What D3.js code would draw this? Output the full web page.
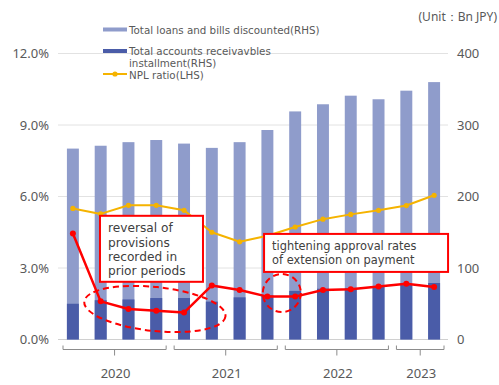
<!DOCTYPE html>
<html>
<head>
<meta charset="utf-8">
<script src="https://cdn.jsdelivr.net/npm/d3@7"></script>
<style>
  body { margin: 0; background: #fff; }
  text { font-family: "Noto Sans", sans-serif; }
  text.tight { font-family: "DejaVu Sans", sans-serif; }
</style>
</head>
<body>
<div id="chart"></div>
<script>
// =====================================================================
// data
var quarters = ["2020Q1","2020Q2","2020Q3","2020Q4","2021Q1","2021Q2","2021Q3","2021Q4",
                "2022Q1","2022Q2","2022Q3","2022Q4","2023Q1","2023Q2"];
var loans = [267, 271, 276, 279, 274, 268, 276, 293, 319, 329, 341, 336, 348, 360];
var receivables = [50, 55, 56, 58, 58, 53, 59, 62, 68, 71, 72, 74, 77, 79];
var nplRatio = [5.5, 5.27, 5.63, 5.63, 5.42, 4.5, 4.1, 4.35, 4.72, 5.05, 5.25, 5.42, 5.62, 6.05];
var redRatio = [4.45, 1.6, 1.28, 1.21, 1.13, 2.27, 2.08, 1.8, 1.8, 2.08, 2.11, 2.22, 2.34, 2.2];
var years = ["2020", "2021", "2022", "2023"];
var yearCounts = [4, 4, 4, 2];
var leftTicks = [0, 3, 6, 9, 12];
var rightTicks = [0, 100, 200, 300, 400];

// =====================================================================
var size = { width: 499, height: 385 };
var plot = { left: 59, right: 448, top: 53.5, bottom: 339.5 };
var colors = { light: "#8f9ccb", dark: "#4a5ca8", yellow: "#f5b300", red: "#ff0000",
               grid: "#e2e2e2", text: "#595959" };

var svg = d3.select("#chart").append("svg")
    .attr("width", size.width).attr("height", size.height);

var x = d3.scaleBand().domain(quarters).range([plot.left, plot.right])
    .paddingInner(0.57).paddingOuter(0.285);
var yL = d3.scaleLinear().domain([0, 12]).range([plot.bottom, plot.top]);
var yR = d3.scaleLinear().domain([0, 400]).range([plot.bottom, plot.top]);
var cx = function(q){ return x(q) + x.bandwidth()/2; };
// fractional index position for annotations
var xi = function(i){ return cx(quarters[0]) + i * x.step(); };

// grid lines
svg.append("g").selectAll("line").data(leftTicks).enter().append("line")
    .attr("x1", plot.left - 1).attr("x2", plot.right)
    .attr("y1", function(d){ return yL(d); }).attr("y2", function(d){ return yL(d); })
    .attr("stroke", function(d){ return d === 0 ? "#d0d0d0" : colors.grid; })
    .attr("stroke-width", 1);

// left axis labels
svg.append("g").selectAll("text").data(leftTicks).enter().append("text")
    .attr("x", 49).attr("y", function(d){ return yL(d) + 4.5; })
    .attr("text-anchor", "end").attr("font-size", 13).attr("fill", colors.text)
    .text(function(d){ return d.toFixed(1) + "%"; });

// right axis labels
svg.append("g").selectAll("text").data(rightTicks).enter().append("text")
    .attr("x", 457).attr("y", function(d){ return yR(d) + 4.5; })
    .attr("text-anchor", "start").attr("font-size", 13).attr("fill", colors.text)
    .text(function(d){ return d; });

// bars
svg.append("g").selectAll("rect").data(quarters).enter().append("rect")
    .attr("x", function(d){ return x(d); }).attr("width", x.bandwidth())
    .attr("y", function(d, i){ return yR(loans[i]); })
    .attr("height", function(d, i){ return yR(0) - yR(loans[i]); })
    .attr("fill", colors.light);
svg.append("g").selectAll("rect").data(quarters).enter().append("rect")
    .attr("x", function(d){ return x(d); }).attr("width", x.bandwidth())
    .attr("y", function(d, i){ return yR(receivables[i]); })
    .attr("height", function(d, i){ return yR(0) - yR(receivables[i]); })
    .attr("fill", colors.dark);

// lines
function drawLine(values, color, width, r) {
    var line = d3.line().x(function(d, i){ return cx(quarters[i]); })
        .y(function(d){ return yL(d); });
    svg.append("path").datum(values).attr("d", line)
        .attr("fill", "none").attr("stroke", color).attr("stroke-width", width)
        .attr("stroke-linejoin", "round");
    svg.append("g").selectAll("circle").data(values).enter().append("circle")
        .attr("cx", function(d, i){ return cx(quarters[i]); })
        .attr("cy", function(d){ return yL(d); })
        .attr("r", r).attr("fill", color);
}
drawLine(nplRatio, colors.yellow, 2, 2.6);
drawLine(redRatio, colors.red, 2.5, 3);

// x axis brackets
var start = 0;
years.forEach(function(yr, k){
    var n = yearCounts[k];
    var b0 = x(quarters[start]) - x.step()*x.paddingInner()/2;
    var b1 = x(quarters[start + n - 1]) + x.bandwidth() + x.step()*x.paddingInner()/2;
    var l = b0 + 4, r = b1 - 4, m = (l + r) / 2;
    var yb = 349.5;
    svg.append("path")
        .attr("d", "M" + l + "," + (yb - 4) + "V" + yb + "H" + r + "V" + (yb - 4)
              + "M" + m + "," + yb + "V" + (yb + 6))
        .attr("fill", "none").attr("stroke", "#8c8c8c").attr("stroke-width", 1);
    svg.append("text").attr("x", m + 1).attr("y", 378)
        .attr("text-anchor", "middle").attr("font-size", 13).attr("fill", colors.text)
        .text(yr);
    start += n;
});

// legend
var legend = svg.append("g");
function legendText(t, y) {
    legend.append("text").attr("class", "tight").attr("x", 129).attr("y", y)
        .attr("font-size", 10.3).attr("fill", colors.text).text(t);
}
legend.append("rect").attr("x", 103).attr("y", 27.5).attr("width", 24).attr("height", 4)
    .attr("fill", colors.light);
legendText("Total loans and bills discounted(RHS)", 33.5);
legend.append("rect").attr("x", 103).attr("y", 49).attr("width", 24).attr("height", 4)
    .attr("fill", colors.dark);
legendText("Total accounts receivavbles", 54.5);
legendText("installment(RHS)", 66.5);
legend.append("line").attr("x1", 103).attr("x2", 127).attr("y1", 74).attr("y2", 74)
    .attr("stroke", colors.yellow).attr("stroke-width", 2);
legend.append("circle").attr("cx", 115).attr("cy", 74).attr("r", 2.6).attr("fill", colors.yellow);
legendText("NPL ratio(LHS)", 78.5);

svg.append("text").attr("x", 497).attr("y", 21).attr("text-anchor", "end")
    .attr("font-size", 12).attr("fill", colors.text).text("(Unit：Bn JPY)");

// annotations
var notes = [
    { i: 0.975, pct: 5.19, w: 103, h: 66, size: 12.2, lh: 14.3, base: 16.5,
      lines: ["reversal of", "provisions", "recorded in", "prior periods"] },
    { i: 6.88, pct: 4.43, w: 184, h: 38, size: 11.4, lh: 13.3, base: 16.5,
      lines: ["tightening approval rates", "of extension on payment"] }
];
notes.forEach(function(n){
    var bx = xi(n.i), by = yL(n.pct);
    svg.append("rect").attr("x", bx).attr("y", by).attr("width", n.w).attr("height", n.h)
        .attr("fill", "#fff").attr("stroke", colors.red).attr("stroke-width", 2);
    n.lines.forEach(function(t, j){
        svg.append("text").attr("class", "tight").attr("x", bx + 8).attr("y", by + n.base + j*n.lh)
            .attr("font-size", n.size).attr("fill", "#404040").text(t);
    });
});

var rings = [
    { i: 2.95, pct: 1.28, rx: 71, ry: 22, rot: 6 },
    { i: 7.52, pct: 1.95, rx: 19, ry: 19, rot: 0 }
];
rings.forEach(function(c){
    var ex = xi(c.i), ey = yL(c.pct);
    svg.append("ellipse").attr("cx", 0).attr("cy", 0).attr("rx", c.rx).attr("ry", c.ry)
        .attr("transform", "translate(" + ex + "," + ey + ") rotate(" + c.rot + ")")
        .attr("fill", "none").attr("stroke", colors.red).attr("stroke-width", 2)
        .attr("stroke-dasharray", "6,4");
});
</script>
</body>
</html>
